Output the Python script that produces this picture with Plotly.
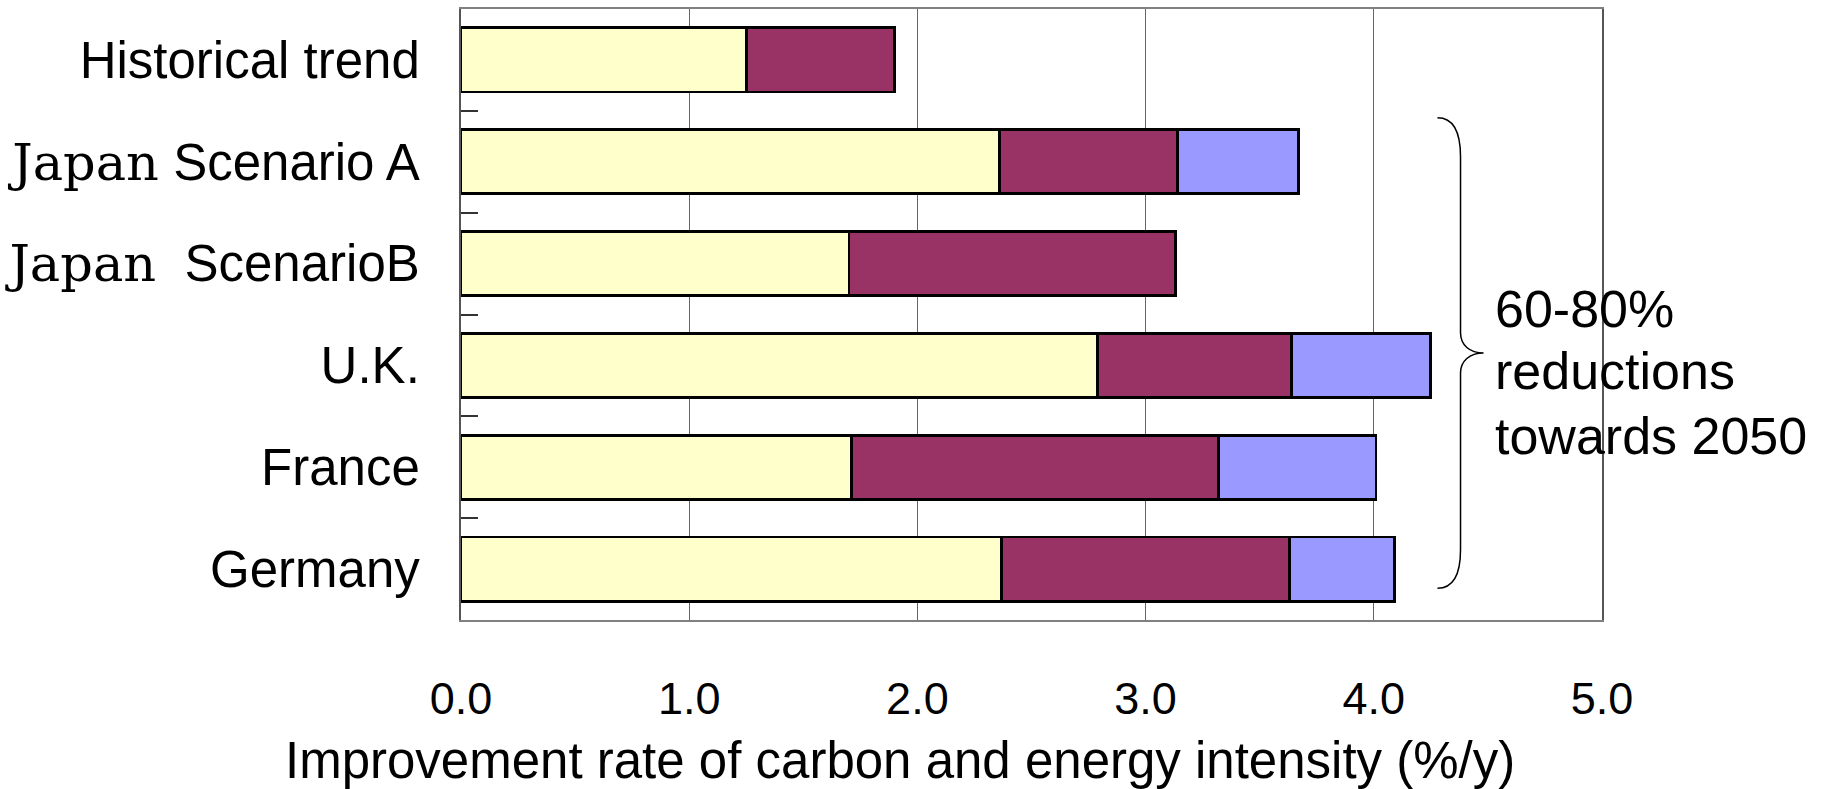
import plotly.graph_objects as go

# Rows, top to bottom
categories = [
    "Historical trend",
    "<span style='font-family:DejaVu Serif;font-size:51px'>Japan</span> Scenario A",
    "<span style='font-family:DejaVu Serif;font-size:51px'>Japan</span>  ScenarioB",
    "U.K.",
    "France",
    "Germany",
]

# Stacked components of the improvement rate (%/y)
seg_yellow = [1.25, 2.36, 1.70, 2.79, 1.71, 2.37]
seg_maroon = [0.65, 0.78, 1.43, 0.85, 1.61, 1.26]
seg_blue = [None, 0.53, None, 0.61, 0.69, 0.46]

x_ticks = [0, 1, 2, 3, 4, 5]
x_tick_text = ["0.0", "1.0", "2.0", "3.0", "4.0", "5.0"]

note_lines = ["60-80%", "reductions", "towards 2050"]

W, H = 1825, 789
M_L, M_R, M_T, M_B = 461, 223, 9, 169
PLOT_W = W - M_L - M_R
PLOT_H = H - M_T - M_B


def px_to_paper_x(px):
    return (px - M_L) / PLOT_W


def px_to_paper_y(py):
    return (H - M_B - py) / PLOT_H


fig = go.Figure()
for vals, color in [(seg_yellow, "#FFFFCC"), (seg_maroon, "#993366"), (seg_blue, "#9999FF")]:
    fig.add_trace(go.Bar(
        y=categories, x=vals, orientation="h",
        marker=dict(color=color, line=dict(color="#000000", width=2.8)),
        showlegend=False, hoverinfo="skip",
    ))

# Curly brace grouping the 2050 scenarios
brace = (
    "M 4.279,0.822 C 4.35,0.822 4.38,0.80 4.38,0.758 "
    "L 4.38,0.47 C 4.38,0.45 4.42,0.437 4.481,0.437 "
    "C 4.42,0.437 4.38,0.424 4.38,0.404 "
    "L 4.38,0.115 C 4.38,0.075 4.35,0.052 4.279,0.052"
)
fig.add_shape(type="path", path=brace, xref="x", yref="paper",
              line=dict(color="#000000", width=1.5))

for txt, yp in zip(note_lines, [0.509, 0.408, 0.301]):
    fig.add_annotation(text=txt, x=4.522, xref="x", y=yp, yref="paper",
                       xanchor="left", yanchor="middle", showarrow=False,
                       font=dict(family="Liberation Sans, Arial, sans-serif", size=52, color="#000000"))

fig.add_annotation(
    text="Improvement rate of carbon and energy intensity (%/y)",
    x=px_to_paper_x(900), xref="paper", y=px_to_paper_y(760), yref="paper",
    xanchor="center", yanchor="middle", showarrow=False,
    font=dict(family="Liberation Sans, Arial, sans-serif", size=51, color="#000000"),
)

fig.update_layout(
    width=W, height=H,
    margin=dict(l=M_L, r=M_R, t=M_T, b=M_B, pad=0, autoexpand=False),
    barmode="stack", bargap=0.37,
    paper_bgcolor="#FFFFFF", plot_bgcolor="#FFFFFF",
    font=dict(family="Liberation Sans, Arial, sans-serif", color="#000000"),
    xaxis=dict(
        range=[0, 5], tickvals=x_ticks, ticktext=x_tick_text, automargin=False,
        showgrid=True, gridcolor="#666666", gridwidth=1,
        showline=True, linecolor="#808080", linewidth=2, mirror=True,
        ticks="", zeroline=False, ticklabelstandoff=38,
        tickfont=dict(size=45, family="Liberation Sans, Arial, sans-serif"),
    ),
    yaxis=dict(
        categoryorder="array", categoryarray=categories, autorange="reversed",
        automargin=False,
        tickson="boundaries", ticks="inside", ticklen=17, tickwidth=1.5, tickcolor="#333333",
        showgrid=False, showline=True, linecolor="#555555", linewidth=2, mirror=True,
        ticklabelstandoff=29,
        tickfont=dict(size=51, family="Liberation Sans, Arial, sans-serif"),
    ),
)

fig.write_html("out.html")
